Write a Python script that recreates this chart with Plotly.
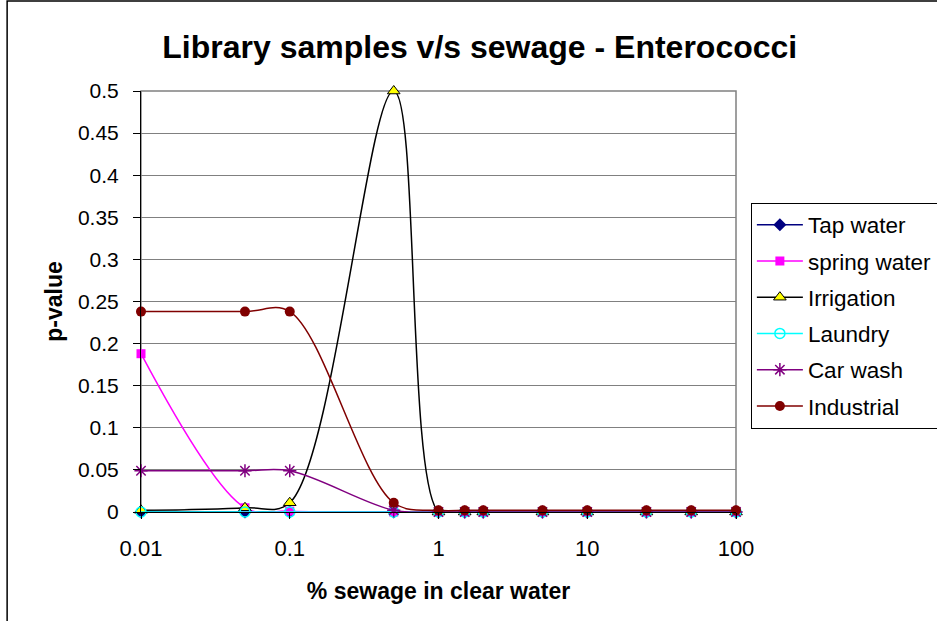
import plotly.graph_objects as go

# Sewage dilution levels (% sewage in clear water)
pct_sewage = [0.01, 0.05, 0.1, 0.5, 1, 1.5, 2, 5, 10, 25, 50, 100]

# p-values per library sample
tap_water = [0, 0, 0, 0, 0, 0, 0, 0, 0, 0, 0, 0]
spring_water = [0.188, 0.005, 0.001, 0, 0, 0, 0, 0, 0, 0, 0, 0]
irrigation = [0.002, 0.005, 0.011, 0.5, 0, 0, 0, 0, 0, 0, 0, 0]
laundry = [0, 0, 0, 0, 0, 0, 0, 0, 0, 0, 0, 0]
car_wash = [0.049, 0.049, 0.049, 0.002, 0, 0, 0, 0, 0, 0, 0, 0]
industrial = [0.238, 0.238, 0.238, 0.011, 0.002, 0.002, 0.002, 0.002, 0.002, 0.002, 0.002, 0.002]

x_tick_vals = [0.01, 0.1, 1, 10, 100]
x_tick_text = ["0.01", "0.1", "1", "10", "100"]
y_tick_vals = [0, 0.05, 0.1, 0.15, 0.2, 0.25, 0.3, 0.35, 0.4, 0.45, 0.5]
y_tick_text = ["0", "0.05", "0.1", "0.15", "0.2", "0.25", "0.3", "0.35", "0.4", "0.45", "0.5"]

FONT = "Liberation Sans, Arial, sans-serif"

series = [
    ("Tap water", tap_water, "#000080",
     dict(symbol="diamond", size=10, color="#000080")),
    ("spring water", spring_water, "#FF00FF",
     dict(symbol="square", size=9, color="#FF00FF")),
    ("Irrigation", irrigation, "#000000",
     dict(symbol="triangle-up", size=11, color="#FFFF00",
          line=dict(color="#000000", width=1))),
    ("Laundry", laundry, "#00FFFF",
     dict(symbol="circle-open", size=10, color="#00FFFF", line=dict(width=1.5))),
    ("Car wash", car_wash, "#800080",
     dict(symbol="asterisk-open", size=11, color="#800080", line=dict(color="#800080", width=1.5))),
    ("Industrial", industrial, "#800000",
     dict(symbol="circle", size=10, color="#800000")),
]

fig = go.Figure()
for i, (name, vals, color, marker) in enumerate(series):
    fig.add_trace(go.Scatter(
        x=pct_sewage, y=vals, name=name, mode="lines+markers",
        line=dict(color=color, width=1.5, shape="spline", smoothing=1),
        marker=marker, legendgroup=f"g{i}", cliponaxis=False,
    ))

# Plot-area frame (grey) and outer chart border
fig.add_shape(type="rect", xref="paper", yref="paper", x0=0, y0=0, x1=1, y1=1,
              line=dict(color="#808080", width=1.5), layer="below")
fig.add_shape(type="rect", xref="paper", yref="paper",
              x0=-0.225, y0=-0.27, x1=1.36, y1=1.2138,
              line=dict(color="#000000", width=1.5), layer="below")

fig.update_layout(
    width=937, height=621,
    margin=dict(l=141, r=201, t=91, b=109, autoexpand=False),
    paper_bgcolor="white", plot_bgcolor="white",
    font=dict(family=FONT, color="#000000"),
    title=dict(text="<b>Library samples v/s sewage - Enterococci</b>",
               font=dict(size=32, family=FONT, color="#000000"),
               x=0.512, xanchor="center", y=0.924, yanchor="middle"),
    legend=dict(x=1.025, xanchor="left", y=0.735, yanchor="top",
                bordercolor="#000000", borderwidth=1, bgcolor="white",
                font=dict(size=22.5, family=FONT, color="#000000"),
                itemwidth=46, tracegroupgap=4),
    showlegend=True,
)

fig.update_xaxes(
    type="log", range=[-2, 2],
    tickvals=x_tick_vals, ticktext=x_tick_text,
    ticks="outside", ticklen=6, tickcolor="#000000",
    showline=True, linecolor="#000000", linewidth=1,
    showgrid=False, zeroline=False,
    tickfont=dict(size=22, family=FONT), ticklabelstandoff=11,
    title=dict(text="<b>% sewage in clear water</b>",
               font=dict(size=23, family=FONT), standoff=22),
)
fig.update_yaxes(
    range=[0, 0.5],
    tickvals=y_tick_vals, ticktext=y_tick_text,
    ticks="outside", ticklen=7, tickcolor="#000000",
    showline=True, linecolor="#000000", linewidth=1,
    showgrid=True, gridcolor="#808080", gridwidth=1, zeroline=False,
    tickfont=dict(size=21, family=FONT), ticklabelstandoff=10,
    title=dict(text="<b>p-value</b>", font=dict(size=23, family=FONT), standoff=8),
)

fig.write_html("out.html")
